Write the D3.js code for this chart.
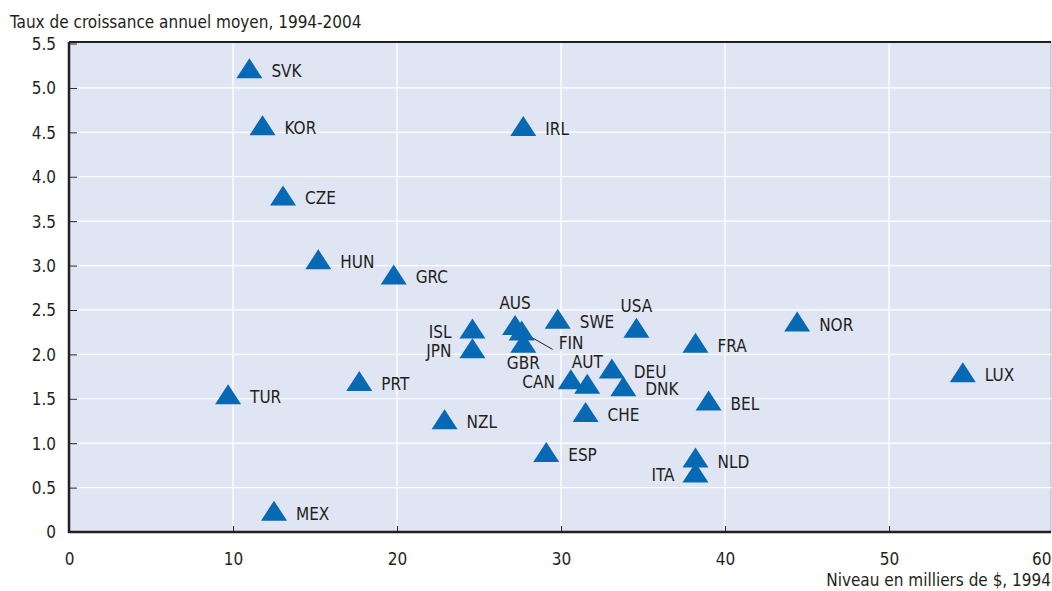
<!DOCTYPE html>
<html>
<head>
<meta charset="utf-8">
<script src="https://cdn.jsdelivr.net/npm/d3@7"></script>
<style>
  body { margin: 0; background: #fff; }
  text { font-family: "DejaVu Sans Condensed", "Liberation Sans Narrow", sans-serif; fill: #231f20; }
</style>
</head>
<body>
<svg id="drawspace" width="1052" height="591"></svg>
<script>
// countries, x = level in thousand $ 1994, y = avg annual growth 1994-2004
let countries = ["SVK","KOR","IRL","CZE","HUN","GRC","AUS","FIN","GBR","SWE","USA","ISL","JPN",
                 "DEU","AUT","CAN","DNK","CHE","NZL","ESP","PRT","TUR","MEX","NOR","FRA","BEL","LUX","NLD","ITA"];
let level  = [11.0,11.8,27.7,13.05,15.2,19.8,27.2,27.6,27.7,29.8,34.6,24.6,24.6,
              33.1,31.6,30.6,33.8,31.5,22.9,29.1,17.7,9.7,12.5,44.4,38.2,39.0,54.5,38.2,38.2];
let growth = [5.22,4.58,4.57,3.79,3.07,2.9,2.33,2.27,2.13,2.4,2.3,2.29,2.07,
              1.84,1.67,1.72,1.64,1.35,1.27,0.9,1.7,1.55,0.24,2.37,2.13,1.48,1.8,0.84,0.67];
// where each label sits: r = right, l = left, t = top, b = bottom
let labelPos = ["r","r","r","r","r","r","t","fin","b","r","t","l","l",
                "r","t","l","r","r","r","r","r","r","r","r","r","r","r","r","l"];
let xTicks = [0,10,20,30,40,50,60];
let yTicks = [0,0.5,1,1.5,2,2.5,3,3.5,4,4.5,5,5.5];

let svg = d3.select("#drawspace");
let pLeft = 69, pRight = 1053, pTop = 42, pBottom = 532;

let xscale = d3.scaleLinear().domain([0,60]).range([pLeft,pRight]);
let yscale = d3.scaleLinear().domain([0,5.5]).range([pBottom,43.5]);

svg.append("rect").attr("x",pLeft).attr("y",pTop).attr("width",1051-pLeft).attr("height",pBottom-pTop)
  .attr("fill","#dfe5f3");
svg.append("line").attr("x1",1051).attr("x2",1051).attr("y1",pTop).attr("y2",pBottom)
  .attr("stroke","#a9aeb8").attr("stroke-width",1);

// grid
svg.append("g").selectAll("line").data(yTicks.filter(d=>d>0 && d<5.5)).enter().append("line")
  .attr("x1",pLeft).attr("x2",1051)
  .attr("y1",d=>yscale(d)).attr("y2",d=>yscale(d))
  .attr("stroke","#fff").attr("stroke-width",1.2);
svg.append("g").selectAll("line").data(xTicks.filter(d=>d>0 && d<60)).enter().append("line")
  .attr("x1",d=>xscale(d)).attr("x2",d=>xscale(d))
  .attr("y1",pTop).attr("y2",pBottom)
  .attr("stroke","#fff").attr("stroke-width",1.2);

// axes
let yAxis = svg.append("g").attr("transform","translate("+pLeft+",0)")
  .call(d3.axisRight(yscale).tickValues(yTicks).tickSize(8).tickFormat(d=>d==0?"0":d3.format(".1f")(d)));
yAxis.select(".domain").remove();
yAxis.selectAll("line").attr("stroke","#231f20");
yAxis.selectAll("text").attr("x",-13).attr("text-anchor","end").style("font-size","17px").attr("dy","0.35em");

let xAxis = svg.append("g").attr("transform","translate(0,"+pBottom+")")
  .call(d3.axisTop(xscale).tickValues(xTicks).tickSize(6));
xAxis.select(".domain").remove();
xAxis.selectAll("line").attr("stroke","#231f20");
xAxis.selectAll("text").attr("y",33).style("font-size","17px").attr("dy",0)
  .attr("text-anchor",d=>d==60?"end":"middle").attr("x",d=>d==60?-2:0);

svg.append("line").attr("x1",pLeft).attr("x2",1051).attr("y1",pTop).attr("y2",pTop)
  .attr("stroke","#231f20").attr("stroke-width",2);
svg.append("line").attr("x1",pLeft).attr("x2",1051).attr("y1",pBottom).attr("y2",pBottom)
  .attr("stroke","#231f20").attr("stroke-width",2.5);
svg.append("line").attr("x1",pLeft).attr("x2",pLeft).attr("y1",pTop).attr("y2",pBottom+1)
  .attr("stroke","#231f20").attr("stroke-width",2.5);

// titles
svg.append("text").attr("x",10).attr("y",28).style("font-size","17px")
  .text("Taux de croissance annuel moyen, 1994-2004");
svg.append("text").attr("x",1051).attr("y",586).attr("text-anchor","end").style("font-size","17px")
  .text("Niveau en milliers de $, 1994");

let data = countries.map((c,i)=>({c:c, x:level[i], y:growth[i], pos:labelPos[i]}));

// FIN leader line
let fin = data.find(d=>d.c=="FIN");
svg.append("line")
  .attr("x1",xscale(fin.x)+10).attr("y1",yscale(fin.y)+7)
  .attr("x2",xscale(fin.x)+31).attr("y2",yscale(fin.y)+19)
  .attr("stroke","#231f20").attr("stroke-width",1);

// flat triangle, 26 wide, 20 tall
let flatTri = {draw: function(ctx){ ctx.moveTo(0,-10); ctx.lineTo(13,10); ctx.lineTo(-13,10); ctx.closePath(); }};
let tri = d3.symbol().type(flatTri);
svg.append("g").selectAll("path").data(data).enter().append("path")
  .attr("d",tri)
  .attr("transform",d=>"translate("+xscale(d.x)+","+yscale(d.y)+")")
  .attr("fill","#0768b3");

svg.append("g").selectAll("text").data(data).enter().append("text")
  .style("font-size","17px")
  .attr("x",d=>{
    let x = xscale(d.x);
    if (d.pos=="l") return x-(d.c=="CAN"?16:21);
    if (d.pos=="t" || d.pos=="b") return x;
    if (d.pos=="fin") return x+37;
    return x+22;
  })
  .attr("y",d=>{
    let y = yscale(d.y);
    if (d.pos=="t") return y-22+6;
    if (d.pos=="b") return y+20+6;
    if (d.pos=="fin") return y+13+6;
    if (d.c=="NLD") return y+5+6;
    return y+3+6;
  })
  .attr("text-anchor",d=>d.pos=="l"?"end":(d.pos=="t"||d.pos=="b")?"middle":"start")
  .text(d=>d.c);
</script>
</body>
</html>
